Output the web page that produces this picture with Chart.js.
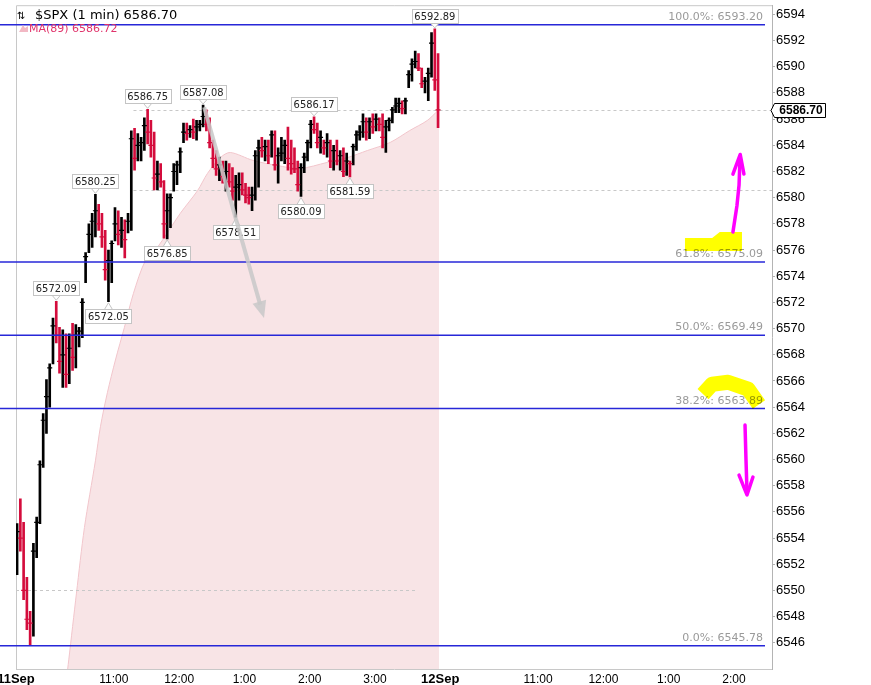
<!DOCTYPE html>
<html>
<head>
<meta charset="utf-8">
<script src="https://cdn.jsdelivr.net/npm/chart.js@4.4.0/dist/chart.umd.min.js"></script>
<style>
	html, body { margin: 0; padding: 0; background: #fff; overflow: hidden; }
	canvas { display: block; }
</style>
</head>
<body>
<canvas id="chart" width="871" height="685"></canvas>
<script>
// $SPX 1 min, 11 Sep session, drawn as 3 minute bars from 09:30
const barStep = 3;
const highs = [
	6555.1, 6557.0, 6555.2, 6551.0, 6548.4, 6553.6, 6555.6, 6559.9, 6563.5, 6566.1,
	6567.3, 6570.8, 6572.09, 6570.1, 6569.9, 6569.6, 6569.6, 6570.4, 6570.3, 6570.1,
	6572.3, 6575.8, 6578.0, 6578.8, 6580.25, 6579.5, 6578.8, 6577.5, 6576.0, 6576.7,
	6579.25, 6579.0, 6578.5, 6578.3, 6578.8, 6585.1, 6585.3, 6584.9, 6584.6, 6586.1,
	6586.75, 6585.9, 6585.0, 6582.8, 6582.6, 6581.3, 6580.3, 6580.3, 6582.6, 6582.8,
	6583.8, 6585.7, 6585.7, 6585.5, 6586.0, 6585.9, 6585.9, 6587.08, 6586.7, 6586.1,
	6584.4, 6583.6, 6583.1, 6582.8, 6582.8, 6582.6, 6582.3, 6581.7, 6581.9, 6581.9,
	6581.1, 6580.8, 6580.8, 6583.6, 6584.4, 6584.6, 6584.4, 6584.4, 6585.1, 6585.1,
	6583.8, 6584.6, 6584.4, 6585.4, 6584.4, 6583.8, 6582.8, 6582.6, 6583.4, 6584.4,
	6585.9, 6586.17, 6585.7, 6585.1, 6584.4, 6584.9, 6584.4, 6584.0, 6584.4, 6583.6,
	6583.8, 6583.4, 6582.8, 6584.1, 6585.1, 6585.5, 6586.4, 6586.1, 6586.1, 6586.4,
	6586.4, 6586.1, 6586.4, 6585.9, 6586.1, 6586.9, 6587.6, 6587.6, 6587.4, 6587.6,
	6589.7, 6590.6, 6591.2, 6591.0, 6589.9, 6589.2, 6589.9, 6592.6, 6592.89, 6591.0
];
const lows = [
	6551.2, 6553.0, 6549.3, 6547.0, 6545.78, 6546.5, 6552.5, 6555.1, 6559.4, 6562.0,
	6564.0, 6567.3, 6568.9, 6566.6, 6565.5, 6565.5, 6565.8, 6566.8, 6567.0, 6568.6,
	6569.3, 6573.5, 6575.8, 6576.2, 6577.0, 6577.5, 6576.2, 6573.7, 6572.05, 6573.5,
	6576.7, 6576.4, 6576.2, 6575.4, 6577.3, 6577.5, 6582.1, 6582.8, 6582.8, 6583.6,
	6584.1, 6583.1, 6580.6, 6580.6, 6580.8, 6576.9, 6576.85, 6577.7, 6580.5, 6581.0,
	6581.9, 6584.2, 6584.4, 6584.6, 6584.5, 6584.4, 6585.1, 6585.4, 6585.1, 6583.8,
	6582.3, 6581.7, 6581.3, 6581.1, 6580.5, 6580.8, 6579.8, 6578.51, 6579.8, 6580.2,
	6579.6, 6579.5, 6579.0, 6579.8, 6580.8, 6583.1, 6582.8, 6582.6, 6583.1, 6582.1,
	6581.1, 6582.8, 6582.6, 6582.1, 6581.8, 6581.9, 6580.5, 6580.09, 6581.9, 6582.8,
	6583.8, 6584.9, 6583.8, 6583.4, 6583.3, 6583.1, 6582.3, 6582.1, 6582.5, 6582.1,
	6581.6, 6581.7, 6581.59, 6582.5, 6583.6, 6584.4, 6584.6, 6584.4, 6584.5, 6584.9,
	6585.1, 6585.1, 6583.8, 6583.45, 6585.1, 6585.7, 6586.5, 6586.5, 6586.4, 6586.4,
	6588.4, 6588.9, 6589.9, 6589.7, 6588.4, 6588.0, 6587.4, 6589.2, 6588.2, 6585.35
];
const closes = [
	6554.5, 6554.0, 6550.0, 6547.8, 6547.5, 6553.0, 6555.2, 6559.6, 6563.0, 6564.8,
	6567.0, 6570.2, 6569.5, 6567.5, 6568.0, 6566.5, 6568.5, 6567.8, 6569.5, 6569.8,
	6572.0, 6575.5, 6577.2, 6578.2, 6579.0, 6578.0, 6577.0, 6574.5, 6575.2, 6576.5,
	6578.0, 6577.2, 6577.5, 6576.8, 6578.2, 6584.5, 6583.0, 6584.0, 6584.2, 6585.5,
	6585.0, 6584.0, 6581.5, 6581.8, 6581.2, 6578.0, 6579.0, 6580.0, 6582.0, 6582.5,
	6583.5, 6585.0, 6584.9, 6585.2, 6585.0, 6585.4, 6585.6, 6586.2, 6585.6, 6584.2,
	6583.0, 6582.2, 6582.5, 6581.6, 6582.0, 6581.2, 6580.5, 6580.8, 6581.0, 6580.6,
	6580.2, 6580.0, 6580.2, 6583.2, 6583.8, 6583.6, 6583.9, 6583.2, 6584.8, 6582.5,
	6583.2, 6583.4, 6584.0, 6583.0, 6582.6, 6582.2, 6581.0, 6582.3, 6583.1, 6584.2,
	6585.6, 6585.2, 6584.2, 6584.6, 6583.8, 6584.2, 6582.8, 6583.6, 6582.8, 6583.2,
	6582.0, 6582.8, 6582.6, 6583.9, 6584.8, 6585.0, 6585.8, 6585.0, 6585.8, 6585.4,
	6586.0, 6585.6, 6584.6, 6585.4, 6585.9, 6586.7, 6587.0, 6587.2, 6586.8, 6587.4,
	6589.4, 6590.2, 6590.4, 6589.9, 6588.7, 6588.9, 6589.5, 6591.8, 6589.0, 6586.70
];

// MA(89), minutes after 09:30
const maMinutes = [47.5, 48.5, 55.6, 62.9, 73, 77.6, 84, 91.4, 99.7, 108, 119, 130, 151, 167, 176, 188, 197, 218, 240, 261, 286, 305, 323, 344, 362, 378, 388, 389];
const maValues = [6544.0, 6544.7, 6549.8, 6554.8, 6559.9, 6562.5, 6565.1, 6567.6, 6570.1, 6572.7, 6575.2, 6576.2, 6578.8, 6580.55, 6581.85, 6583.07, 6583.45, 6582.84, 6582.46, 6582.23, 6582.69, 6583.07, 6583.6, 6584.22, 6585.13, 6585.89, 6586.66, 6586.72];

const lastPrice = 6586.70;
const lastMA = 6586.72;

const fibLevels = [6593.20, 6575.09, 6569.49, 6563.89, 6545.78];
const fibNames = ['100.0%', '61.8%', '50.0%', '38.2%', '0.0%'];

// swing labels
const markMinutes = [37, 73, 121, 172, 274, 385, 85, 139, 202, 262, 307];
const markValues = [6572.09, 6580.25, 6586.75, 6587.08, 6586.17, 6592.89, 6572.05, 6576.85, 6578.51, 6580.09, 6581.59];
const markSides = ['high', 'high', 'high', 'high', 'high', 'high', 'low', 'low', 'low', 'low', 'low'];

// dotted levels and their extent (minutes)
const dashLevels = [6586.70, 6580.57, 6550];
const dashFrom = [108, 108, 0];
const dashTo = [695, 695, 367];

const tickMinutes = [0, 90, 150, 210, 270, 330, 390, 480, 540, 600, 660];
const tickLabels = ['11Sep', '11:00', '12:00', '1:00', '2:00', '3:00', '12Sep', '11:00', '12:00', '1:00', '2:00'];
const yTicks = [6546, 6548, 6550, 6552, 6554, 6556, 6558, 6560, 6562, 6564, 6566, 6568, 6570, 6572, 6574, 6576, 6578, 6580, 6582, 6584, 6586, 6588, 6590, 6592, 6594];

const arial = '"Liberation Sans", Arial, sans-serif';
const verdana = '"DejaVu Sans", Verdana, sans-serif';
const tahoma = '"DejaVu Sans Condensed", "Liberation Sans", sans-serif';

const barMinute = i => i * barStep + 1;
const bars = highs.map((h, i) => ({ x: barMinute(i), y: [lows[i], h] }));
const closeTicks = closes.map((c, i) => ({ x: barMinute(i), y: c }));
const barColors = closes.map((c, i) => (i === 0 || c >= closes[i - 1]) ? '#000' : '#d40c3c');

// hand drawn notes, in minutes / price
const greyArrow = [[173, 6586.9], [228, 6570.8]];
const yellowBox = [[615, 6575.92], [615, 6576.91], [640, 6576.91], [647, 6577.37], [667.4, 6577.37], [667.4, 6575.92]];
const yellowArc = [[631.6, 6565.0], [640, 6565.75], [654.6, 6565.9], [673, 6565.38], [683, 6564.2]];
const pinkUp = [[659.1, 6577.37], [662.8, 6579.4], [664.7, 6580.96], [665.6, 6583.0]];
const pinkUpHead = [[659.1, 6581.8], [665.8, 6583.3], [669.2, 6581.8]];
const pinkDown = [[670.2, 6562.63], [671.1, 6559.96], [672, 6557.6]];
const pinkDownHead = [[664.7, 6558.81], [672, 6557.3], [677.5, 6558.66]];

function path(ctx, x, y, pts) {
	ctx.beginPath();
	pts.forEach((p, k) => {
		const px = x.getPixelForValue(p[0]), py = y.getPixelForValue(p[1]);
		if (k === 0) ctx.moveTo(px, py); else ctx.lineTo(px, py);
	});
}

const overlay = {
	id: 'overlay',
	beforeDatasetsDraw(chart) {
		const { ctx, chartArea: a } = chart;
		ctx.save();
		ctx.strokeStyle = '#c8c8c8';
		ctx.lineWidth = 1;
		ctx.beginPath();
		ctx.moveTo(a.left + 0.5, a.bottom);
		ctx.lineTo(a.left + 0.5, a.top + 0.5);
		ctx.lineTo(a.right, a.top + 0.5);
		ctx.stroke();
		ctx.restore();
	},
	beforeDatasetDraw(chart, args) {
		if (args.meta.type !== 'bar') return;
		const { ctx, scales: { x, y } } = chart;
		ctx.save();
		ctx.setLineDash([3, 3]);
		ctx.strokeStyle = '#c8c8c8';
		ctx.lineWidth = 1;
		dashLevels.forEach((v, k) => {
			const py = Math.round(y.getPixelForValue(v)) + 0.5;
			ctx.beginPath();
			ctx.moveTo(x.getPixelForValue(dashFrom[k]), py);
			ctx.lineTo(x.getPixelForValue(dashTo[k]), py);
			ctx.stroke();
		});
		ctx.restore();
	},
	afterDatasetsDraw(chart) {
		const { ctx, chartArea: a, scales: { x, y } } = chart;
		ctx.save();

		// fibonacci levels
		fibLevels.forEach((v, k) => {
			const py = y.getPixelForValue(v);
			ctx.strokeStyle = '#2727d8';
			ctx.lineWidth = 1.5;
			ctx.beginPath();
			ctx.moveTo(0, py);
			ctx.lineTo(a.right - 7, py);
			ctx.stroke();
			ctx.fillStyle = '#9a9a9a';
			ctx.font = '11px ' + verdana;
			ctx.textAlign = 'right';
			ctx.textBaseline = 'alphabetic';
			ctx.fillText(fibNames[k] + ': ' + v.toFixed(2), a.right - 9, py - 5);
		});

		// swing labels
		ctx.font = '11px ' + tahoma;
		ctx.textAlign = 'center';
		ctx.textBaseline = 'middle';
		markValues.forEach((v, k) => {
			const px = x.getPixelForValue(markMinutes[k]);
			const py = y.getPixelForValue(v);
			const up = markSides[k] === 'high';
			const txt = v.toFixed(2);
			const w = Math.round(ctx.measureText(txt).width) + 5, h = 14;
			const cy = up ? py - 13 : py + 14.5;
			const bx = Math.round(px - w / 2) + 0.5, by = Math.round(cy - h / 2) + 0.5;
			const edge = up ? by + h : by;
			const tip = up ? py - 1 : py + 1;
			ctx.fillStyle = '#fff';
			ctx.strokeStyle = '#c4c4c4';
			ctx.lineWidth = 1;
			ctx.beginPath();
			ctx.moveTo(px - 4, edge);
			ctx.lineTo(px, tip);
			ctx.lineTo(px + 4, edge);
			ctx.closePath();
			ctx.fill();
			ctx.stroke();
			ctx.fillRect(bx, by, w, h);
			ctx.strokeRect(bx, by, w, h);
			ctx.fillStyle = '#222';
			ctx.fillText(txt, px, by + h / 2 + 0.5);
		});

		// grey arrow
		const gx0 = x.getPixelForValue(greyArrow[0][0]), gy0 = y.getPixelForValue(greyArrow[0][1]);
		const gx1 = x.getPixelForValue(greyArrow[1][0]), gy1 = y.getPixelForValue(greyArrow[1][1]);
		const ang = Math.atan2(gy1 - gy0, gx1 - gx0);
		ctx.strokeStyle = 'rgba(200,200,200,0.85)';
		ctx.fillStyle = 'rgba(200,200,200,0.85)';
		ctx.lineWidth = 4;
		ctx.beginPath();
		ctx.moveTo(gx0, gy0);
		ctx.lineTo(gx1 - 14 * Math.cos(ang), gy1 - 14 * Math.sin(ang));
		ctx.stroke();
		ctx.beginPath();
		ctx.moveTo(gx1, gy1);
		ctx.lineTo(gx1 - 17 * Math.cos(ang) + 7 * Math.sin(ang), gy1 - 17 * Math.sin(ang) - 7 * Math.cos(ang));
		ctx.lineTo(gx1 - 17 * Math.cos(ang) - 7 * Math.sin(ang), gy1 - 17 * Math.sin(ang) + 7 * Math.cos(ang));
		ctx.closePath();
		ctx.fill();

		// yellow highlights
		ctx.globalCompositeOperation = 'multiply';
		ctx.fillStyle = '#ffff00';
		path(ctx, x, y, yellowBox);
		ctx.closePath();
		ctx.fill();
		ctx.strokeStyle = '#ffff00';
		ctx.lineWidth = 15;
		ctx.lineJoin = 'round';
		path(ctx, x, y, yellowArc);
		ctx.stroke();
		ctx.globalCompositeOperation = 'source-over';

		// magenta arrows
		ctx.strokeStyle = '#ff00ff';
		ctx.lineWidth = 3.5;
		ctx.lineCap = 'round';
		ctx.lineJoin = 'round';
		[pinkUp, pinkUpHead, pinkDown, pinkDownHead].forEach(p => {
			path(ctx, x, y, p);
			ctx.stroke();
		});
		ctx.restore();
	},
	afterDraw(chart) {
		const { ctx, chartArea: a, scales: { y } } = chart;
		ctx.save();
		// legend
		ctx.fillStyle = '#000';
		ctx.textAlign = 'left';
		ctx.textBaseline = 'alphabetic';
		ctx.font = '10px ' + verdana;
		ctx.fillText('⇅', 17, 19);
		ctx.font = '13px ' + verdana;
		ctx.fillText('$SPX (1 min) ' + lastPrice.toFixed(2), 35, 19);
		ctx.fillStyle = '#f2b8c4';
		ctx.beginPath();
		ctx.moveTo(19, 32);
		ctx.lineTo(23, 25);
		ctx.lineTo(25, 28);
		ctx.lineTo(28, 26);
		ctx.lineTo(28, 32);
		ctx.closePath();
		ctx.fill();
		ctx.fillStyle = '#e0336b';
		ctx.font = '11px ' + verdana;
		ctx.fillText('MA(89) ' + lastMA.toFixed(2), 29, 32);

		// last price tag
		const py = Math.round(y.getPixelForValue(lastPrice)) + 0.5;
		const l = a.right + 2.5, r = 825.5;
		ctx.fillStyle = '#fff';
		ctx.strokeStyle = '#000';
		ctx.lineWidth = 1;
		ctx.beginPath();
		ctx.moveTo(a.right - 1, py);
		ctx.lineTo(l, py - 7);
		ctx.lineTo(r, py - 7);
		ctx.lineTo(r, py + 7);
		ctx.lineTo(l, py + 7);
		ctx.closePath();
		ctx.fill();
		ctx.stroke();
		ctx.fillStyle = '#000';
		ctx.font = 'bold 12px ' + arial;
		ctx.textAlign = 'center';
		ctx.textBaseline = 'middle';
		ctx.fillText(lastPrice.toFixed(2), (l + r) / 2 + 1, py + 0.5);
		ctx.restore();
	}
};

const config = {
	type: 'bar',
	data: {
		datasets: [
			{
				type: 'scatter',
				data: closeTicks,
				pointStyle: 'line',
				pointRadius: 2.5,
				borderWidth: 1.2,
				borderColor: barColors,
				backgroundColor: barColors,
				order: 0
			},
			{
				type: 'bar',
				data: bars,
				backgroundColor: barColors,
				barThickness: 2,
				grouped: false,
				order: 1
			},
			{
				type: 'line',
				data: maMinutes.map((t, i) => ({ x: t, y: maValues[i] })),
				borderColor: '#f2c6cc',
				borderWidth: 1,
				backgroundColor: '#f8e4e6',
				fill: 'start',
				pointRadius: 0,
				tension: 0.3,
				order: 2
			}
		]
	},
	options: {
		responsive: false,
		animation: false,
		devicePixelRatio: 1,
		layout: { padding: { left: 16, top: 5, right: 0, bottom: 0 } },
		plugins: {
			legend: { display: false },
			tooltip: { enabled: false }
		},
		scales: {
			x: {
				type: 'linear',
				min: 0,
				max: 695,
				offset: false,
				grid: { display: false, drawTicks: false, offset: false },
				border: { display: true, color: '#c8c8c8' },
				afterBuildTicks: s => { s.ticks = tickMinutes.map(v => ({ value: v })); },
				afterFit: s => { s.height = 16; s.paddingLeft = 0; s.paddingRight = 0; },
				ticks: {
					autoSkip: false,
					maxRotation: 0,
					minRotation: 0,
					padding: 3,
					color: '#000',
					callback: (v, i) => tickLabels[i],
					font: c => (tickLabels[c.index] || '').includes('Sep')
						? { family: arial, size: 13, weight: 'bold' }
						: { family: arial, size: 12 }
				}
			},
			y: {
				position: 'right',
				min: 6544.0,
				max: 6594.7,
				grid: { drawOnChartArea: false, drawTicks: true, tickLength: 3, color: '#b0b0b0' },
				border: { display: true, color: '#b4b4b4', dash: [2, 2] },
				afterBuildTicks: s => { s.ticks = yTicks.map(v => ({ value: v })); },
				afterFit: s => { s.width = 99; s.paddingTop = 0; s.paddingBottom = 0; },
				ticks: {
					padding: 1,
					color: '#000',
					font: { family: arial, size: 13 },
					callback: v => String(v)
				}
			}
		}
	},
	plugins: [overlay]
};

const chart = new Chart(document.getElementById('chart'), config);
</script>
</body>
</html>
